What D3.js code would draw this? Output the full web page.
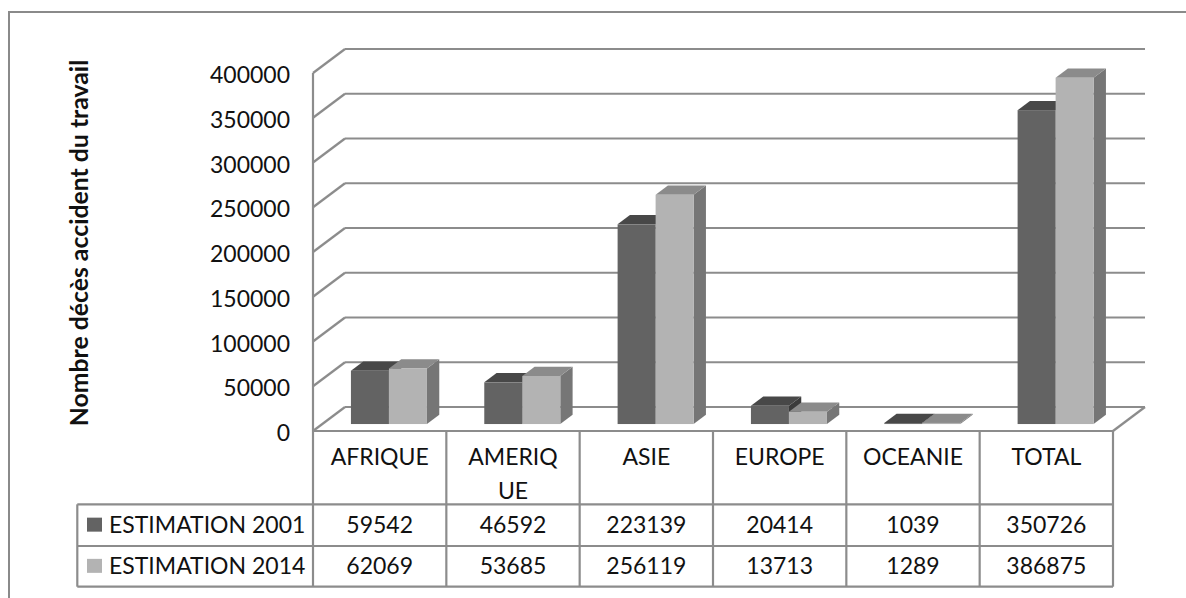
<!DOCTYPE html>
<html>
<head>
<meta charset="utf-8">
<script src="https://cdnjs.cloudflare.com/ajax/libs/d3/7.8.5/d3.min.js"></script>
<style>
body{margin:0;background:#fff;}
text{font-family:Lato,"Open Sans",sans-serif;fill:#111;}
</style>
</head>
<body>
<script>
// data
var categories = ["AFRIQUE", "AMERIQUE", "ASIE", "EUROPE", "OCEANIE", "TOTAL"];
var catLabels = [["AFRIQUE"], ["AMERIQ", "UE"], ["ASIE"], ["EUROPE"], ["OCEANIE"], ["TOTAL"]];
var seriesNames = ["ESTIMATION 2001", "ESTIMATION 2014"];
var est2001 = [59542, 46592, 223139, 20414, 1039, 350726];
var est2014 = [62069, 53685, 256119, 13713, 1289, 386875];
var yTicks = [0, 50000, 100000, 150000, 200000, 250000, 300000, 350000, 400000];
var yTitle = "Nombre décès accident du travail";

const svg_width = 1186, svg_height = 598;
const x0 = 313, x1 = 1113, floorY = 431, topY = 73;
const depthX = 32, depthY = 24;
const barFront = 0.29, barDepth = 0.385;
const tableTop = 431, headerBottom = 504.3, row1Bottom = 546, row2Bottom = 586.7, legendLeft = 77.3;
const gridColor = "#8c8c8c";

var faceColors = [
	{front: "#636363", top: "#484848", side: "#3b3b3b"},
	{front: "#b3b3b3", top: "#8b8b8b", side: "#767676"}
];

var svg = d3.select("body").append("svg")
			.attr("width", svg_width)
			.attr("height", svg_height);

// outer frame
svg.append("rect")
	.attr("x", 9).attr("y", 12)
	.attr("width", 1200).attr("height", 620)
	.attr("fill", "none")
	.attr("stroke", "#8a8a8a")
	.attr("stroke-width", 2);

var xScale = d3.scaleBand().domain(categories).range([x0, x1]);
var innerScale = d3.scaleBand().domain(seriesNames).range([0, xScale.bandwidth()]).paddingOuter(0.754);
var yScale = d3.scaleLinear().domain([0, 400000]).range([floorY, topY]);

// walls and gridlines
var grid = svg.append("g").attr("fill", "none").attr("stroke", gridColor).attr("stroke-width", 2.2);
yTicks.forEach(function(t){
	var y = yScale(t);
	grid.append("line")
		.attr("x1", x0).attr("y1", y)
		.attr("x2", x0 + depthX).attr("y2", y - depthY);
	grid.append("line")
		.attr("x1", x0 + depthX).attr("y1", y - depthY)
		.attr("x2", x1 + depthX).attr("y2", y - depthY);
});
grid.append("line")
	.attr("x1", x0).attr("y1", yScale(400000))
	.attr("x2", x0).attr("y2", floorY);
grid.append("line")
	.attr("x1", x1).attr("y1", floorY)
	.attr("x2", x1 + depthX).attr("y2", floorY - depthY);

// tick labels
svg.append("g").selectAll("text")
	.data(yTicks)
	.enter()
	.append("text")
	.attr("x", 290)
	.attr("y", function(d){ return yScale(d) + 10; })
	.attr("text-anchor", "end")
	.attr("font-size", "23px")
	.text(function(d){ return d; });

// y title
svg.append("text")
	.attr("transform", "translate(88,243) rotate(-90)")
	.attr("text-anchor", "middle")
	.attr("font-size", "24.8px")
	.attr("font-weight", "bold")
	.text(yTitle);

// 3d bars
var values = [est2001, est2014];
var fx = barFront * depthX, fy = barFront * depthY;
var dx = barDepth * depthX, dy = barDepth * depthY;
var barGroup = svg.append("g");
categories.forEach(function(c, i){
	seriesNames.forEach(function(s, j){
		var v = values[j][i];
		var left = xScale(c) + innerScale(s) + fx;
		var right = left + innerScale.bandwidth();
		var top = yScale(v) - fy;
		var bottom = yScale(0) - fy;
		var col = faceColors[j];
		var g = barGroup.append("g");
		g.append("path")
			.attr("d", "M" + right + "," + top + "L" + (right + dx) + "," + (top - dy) +
				"L" + (right + dx) + "," + (bottom - dy) + "L" + right + "," + bottom + "Z")
			.attr("fill", col.side);
		g.append("path")
			.attr("d", "M" + left + "," + top + "L" + (left + dx) + "," + (top - dy) +
				"L" + (right + dx) + "," + (top - dy) + "L" + right + "," + top + "Z")
			.attr("fill", col.top);
		g.append("rect")
			.attr("x", left)
			.attr("y", top)
			.attr("width", right - left)
			.attr("height", bottom - top)
			.attr("fill", col.front);
	});
});

// data table
var table = svg.append("g").attr("stroke", gridColor).attr("stroke-width", 2.2).attr("fill", "none");
table.append("line").attr("x1", x0).attr("y1", tableTop).attr("x2", x1).attr("y2", tableTop);
[headerBottom, row1Bottom, row2Bottom].forEach(function(y){
	table.append("line").attr("x1", legendLeft).attr("y1", y).attr("x2", x1).attr("y2", y);
});
table.append("line").attr("x1", legendLeft).attr("y1", headerBottom).attr("x2", legendLeft).attr("y2", row2Bottom);
categories.concat([null]).forEach(function(c, i){
	var x = c === null ? x1 : xScale(c);
	table.append("line").attr("x1", x).attr("y1", tableTop).attr("x2", x).attr("y2", row2Bottom);
});

var headers = svg.append("g");
categories.forEach(function(c, i){
	var t = headers.append("text")
		.attr("x", xScale(c) + xScale.bandwidth() / 2)
		.attr("y", 465)
		.attr("text-anchor", "middle")
		.attr("font-size", "23px");
	catLabels[i].forEach(function(line, k){
		t.append("tspan")
			.attr("x", xScale(c) + xScale.bandwidth() / 2)
			.attr("dy", k === 0 ? 0 : 33.5)
			.text(line);
	});
});

var rowY = [(headerBottom + row1Bottom) / 2, (row1Bottom + row2Bottom) / 2];
seriesNames.forEach(function(s, j){
	svg.append("rect")
		.attr("x", 87).attr("y", rowY[j] - 7.5)
		.attr("width", 15).attr("height", 14)
		.attr("fill", faceColors[j].front);
	svg.append("text")
		.attr("x", 109)
		.attr("y", rowY[j] + 8)
		.attr("font-size", "23px")
		.text(s);
	svg.append("g").selectAll("text")
		.data(values[j])
		.enter()
		.append("text")
		.attr("x", function(d, i){ return xScale(categories[i]) + xScale.bandwidth() / 2; })
		.attr("y", rowY[j] + 8)
		.attr("text-anchor", "middle")
		.attr("font-size", "23px")
		.text(function(d){ return d; });
});
</script>
</body>
</html>
